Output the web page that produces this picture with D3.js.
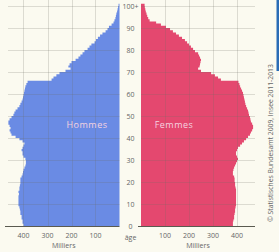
<!DOCTYPE html>
<html>
<head>
<meta charset="utf-8">
<script src="https://cdn.jsdelivr.net/npm/d3@7"></script>
<style>
  html, body { margin: 0; padding: 0; background: #fbfaf0; }
  svg { display: block; font-family: "Open Sans", sans-serif; }
</style>
</head>
<body>
<svg width="279" height="252"></svg>
<script>
// population by single year of age, in thousands (age 0 .. 100+)
const hommes = [400, 404, 404, 408, 408, 413, 413, 415, 417, 421,
  421, 421, 421, 421, 419, 421, 417, 417, 415, 413,
  413, 413, 408, 404, 402, 400, 396, 392, 390, 390,
  392, 400, 404, 404, 408, 404, 400, 396, 404, 417,
  433, 450, 454, 458, 454, 458, 463, 463, 458, 450,
  442, 438, 433, 425, 417, 413, 408, 404, 402, 400,
  398, 396, 394, 392, 388, 383, 283, 275, 263, 250,
  225, 204, 213, 208, 200, 183, 171, 163, 154, 146,
  133, 125, 117, 104, 98, 90, 81, 71, 58, 50,
  44, 33, 25, 21, 17, 15, 13, 10, 8, 6, 4];
const femmes = [383, 383, 385, 388, 388, 390, 392, 392, 394, 396,
  396, 396, 396, 396, 396, 396, 396, 394, 392, 392,
  390, 390, 388, 383, 383, 385, 388, 392, 396, 400,
  404, 400, 396, 396, 400, 404, 413, 421, 429, 438,
  446, 454, 458, 463, 467, 467, 463, 458, 456, 454,
  450, 448, 446, 442, 438, 435, 433, 431, 429, 427,
  425, 421, 417, 413, 410, 406, 333, 321, 308, 292,
  250, 238, 244, 246, 248, 250, 246, 242, 238, 225,
  217, 208, 200, 192, 183, 171, 158, 146, 133, 121,
  104, 83, 63, 36, 30, 26, 23, 20, 18, 16, 15];
const ageTicks = [0, 10, 20, 30, 40, 50, 60, 70, 80, 90, 100];
const valueTicks = [100, 200, 300, 400];

const svg = d3.select("svg");

const y = d3.scaleLinear().domain([0, 100]).range([226, 6]);
const xL = d3.scaleLinear().domain([0, 480]).range([119.5, 4.3]);
const xR = d3.scaleLinear().domain([0, 475]).range([141, 255]);

function points(values) {
  const pts = values.map((v, i) => ({ age: i, v: v }));
  pts.push({ age: values.length, v: values[values.length - 1] });
  return pts;
}

function drawSide(values, x, color, gridX0, gridX1) {
  const area = d3.area()
    .curve(d3.curveStepBefore)
    .y(d => y(d.age))
    .x0(x(0))
    .x1(d => x(d.v));
  svg.append("path")
    .datum(points(values))
    .attr("d", area)
    .attr("fill", color);

  // grid on top, faint
  const g = svg.append("g").attr("stroke", "rgba(110,110,100,0.22)").attr("stroke-width", 1);
  g.selectAll(".h").data(ageTicks.slice(1)).join("line")
    .attr("x1", gridX0).attr("x2", gridX1)
    .attr("y1", d => Math.round(y(d)) + 0.5).attr("y2", d => Math.round(y(d)) + 0.5);
  g.selectAll(".v").data(valueTicks).join("line")
    .attr("x1", d => Math.round(x(d)) + 0.5).attr("x2", d => Math.round(x(d)) + 0.5)
    .attr("y1", 0).attr("y2", 226);

  // baseline
  svg.append("line")
    .attr("x1", gridX0 - 3).attr("x2", gridX1)
    .attr("y1", 226.5).attr("y2", 226.5)
    .attr("stroke", "#5a5a50").attr("stroke-width", 1);

  svg.append("g").selectAll("text").data(valueTicks).join("text")
    .attr("x", d => x(d))
    .attr("y", 238)
    .attr("text-anchor", "middle")
    .attr("font-size", 7)
    .attr("fill", "#666")
    .text(d => d);

  svg.append("text")
    .attr("x", (gridX0 + gridX1) / 2)
    .attr("y", 248)
    .attr("text-anchor", "middle")
    .attr("font-size", 7)
    .attr("fill", "#666")
    .text("Milliers");
}

drawSide(hommes, xL, "#6a8be4", 8, 119.5);
drawSide(femmes, xR, "#e4486f", 141, 255);

// age labels in the middle
svg.append("g").selectAll("text").data(ageTicks).join("text")
  .attr("x", 130.5)
  .attr("y", d => y(d) + 2.5)
  .attr("text-anchor", "middle")
  .attr("font-size", 7)
  .attr("fill", "#666")
  .text(d => d === 100 ? "100+" : d);

svg.append("text")
  .attr("x", 130.5).attr("y", 240)
  .attr("text-anchor", "middle")
  .attr("font-size", 7)
  .attr("fill", "#666")
  .text("âge");

svg.append("text")
  .attr("x", 87).attr("y", 128)
  .attr("text-anchor", "middle")
  .attr("font-size", 9)
  .attr("letter-spacing", 0.5)
  .attr("fill", "#f6d3e0")
  .text("Hommes");

svg.append("text")
  .attr("x", 174).attr("y", 128)
  .attr("text-anchor", "middle")
  .attr("font-size", 9)
  .attr("letter-spacing", 0.5)
  .attr("fill", "#f6d3e0")
  .text("Femmes");

svg.append("text")
  .attr("transform", "translate(273,143) rotate(-90)")
  .attr("text-anchor", "middle")
  .attr("font-size", 6.8)
  .attr("fill", "#666")
  .text("© Statistisches Bundesamt 2009, Insee 2011-2013");

svg.append("rect")
  .attr("x", 276.5).attr("y", 0)
  .attr("width", 3).attr("height", 71)
  .attr("fill", "#2a6cb6");
</script>
</body>
</html>
